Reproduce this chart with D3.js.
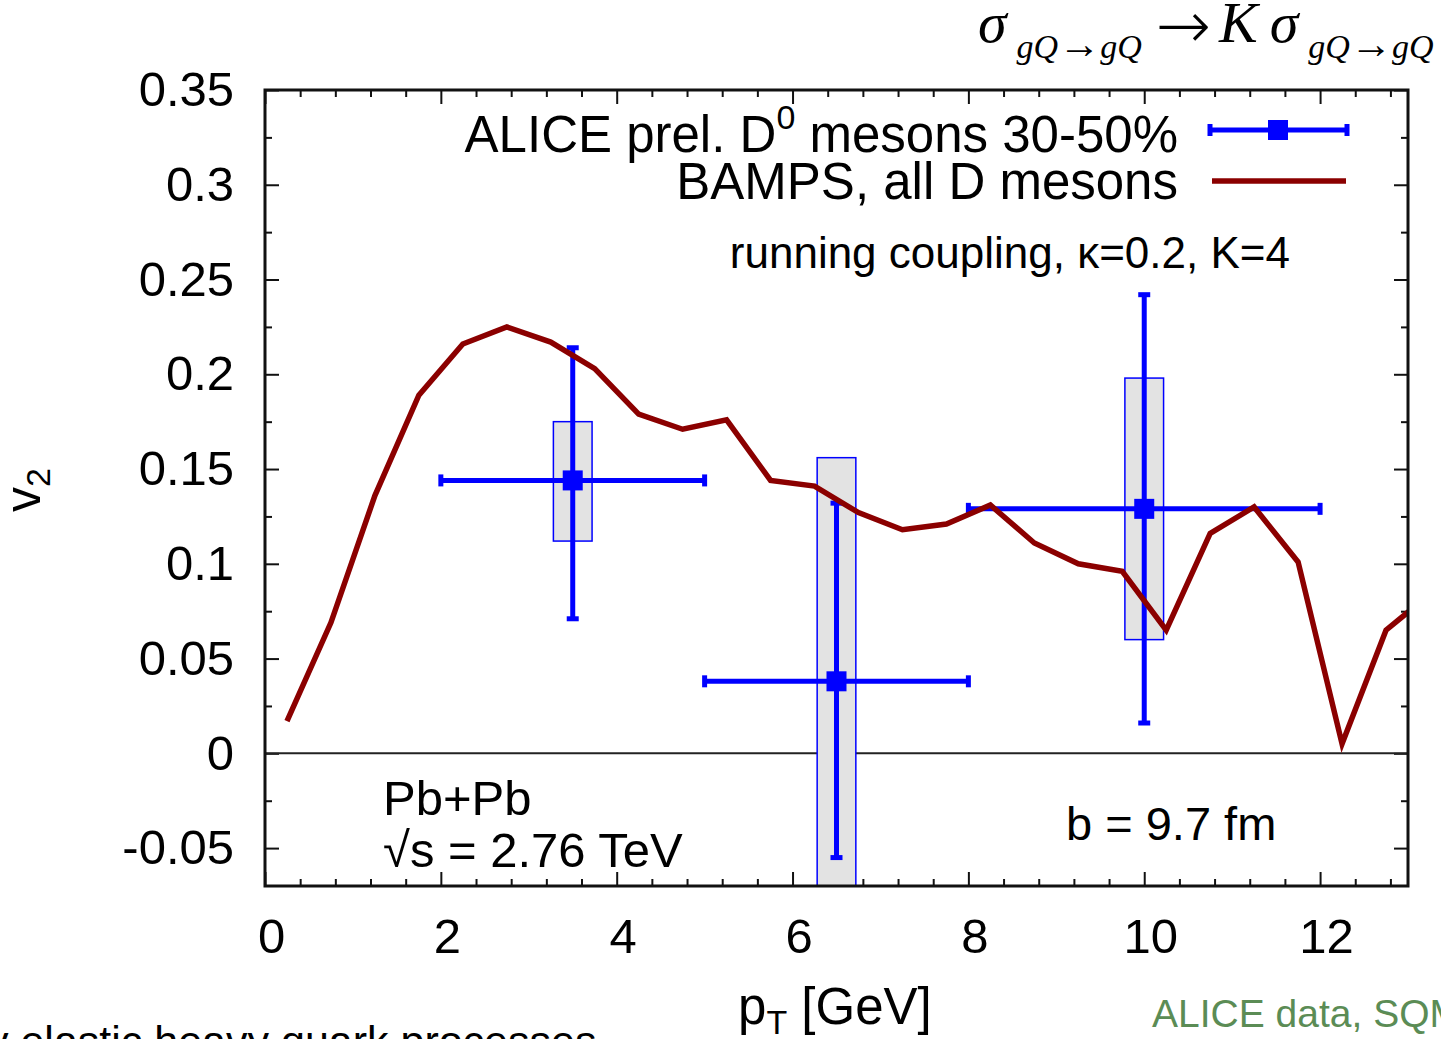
<html lang="en">
<head>
<meta charset="UTF-8">
<title>D meson v2</title>
<script src="https://cdn.jsdelivr.net/npm/d3@7"></script>
<style>
  body { margin: 0; background: #fff; overflow: hidden; }
  svg { display: block; }
  text { font-family: "Liberation Sans", Arial, Helvetica, sans-serif; fill: #000; }
  .serif { font-family: "Liberation Serif", "Times New Roman", serif; }
</style>
</head>
<body>
<svg id="chart"></svg>
<script>
// BAMPS curve (all D mesons)
var curvePt = [0.25, 0.75, 1.25, 1.75, 2.25, 2.75, 3.25, 3.75, 4.25, 4.75, 5.25, 5.75, 6.25,
               6.75, 7.25, 7.75, 8.25, 8.75, 9.25, 9.75, 10.25, 10.75, 11.25, 11.75, 12.25, 12.75, 13.25];
var curveV2 = [0.017, 0.069, 0.136, 0.189, 0.216, 0.225, 0.217, 0.203, 0.179, 0.171, 0.176, 0.144, 0.141,
               0.127, 0.118, 0.121, 0.131, 0.111, 0.100, 0.096, 0.065, 0.116, 0.130, 0.101, 0.005, 0.065, 0.084];

// ALICE prel. D0 30-50%
var alicePt  = [3.5, 6.5, 10];
var aliceV2  = [0.144, 0.038, 0.129];
var alicePtLo = [2, 5, 8];
var alicePtHi = [5, 8, 12];
var statLo = [0.071, -0.055, 0.016];
var statHi = [0.214, 0.132, 0.242];
var sysLo  = [0.112, -0.09, 0.060];
var sysHi  = [0.175, 0.156, 0.198];

var xTicks = [0, 2, 4, 6, 8, 10, 12];
var yTicks = [-0.05, 0, 0.05, 0.1, 0.15, 0.2, 0.25, 0.3, 0.35];

var width = 1441, height = 1039;
var mLeft = 265, mRight = 1408, mTop = 90, mBottom = 886;

var svg = d3.select("#chart").attr("width", width).attr("height", height);

var x = d3.scaleLinear().domain([0, 13]).range([mLeft, mRight]);
var y = d3.scaleLinear().domain([-0.07, 0.35]).range([mBottom, mTop]);

var xMinor = d3.range(0, 13.01, 0.4).filter(function(d) { return Math.abs(d / 2 - Math.round(d / 2)) > 0.01; });
var yMinor = d3.range(-0.05, 0.351, 0.025).filter(function(d) { return Math.abs(d / 0.05 - Math.round(d / 0.05)) > 0.01; });

svg.append("defs").append("clipPath").attr("id", "plot")
   .append("rect").attr("x", mLeft).attr("y", mTop).attr("width", mRight - mLeft).attr("height", mBottom - mTop);

function fmt(d) { return String(+d.toFixed(2)); }

// axes: major and minor ticks on all four sides, pointing inward
function ticks(axis, pos, vals, size, labels, pad) {
  var g = svg.append("g")
    .attr("transform", pos)
    .call(axis.tickValues(vals).tickSize(size).tickPadding(pad || 0)
      .tickFormat(labels ? fmt : ""));
  g.select(".domain").remove();
  g.selectAll("line").attr("stroke", "#111").attr("stroke-width", 2);
  g.selectAll("text").attr("font-size", 49).attr("font-family", "Liberation Sans, Arial, sans-serif");
  return g;
}
ticks(d3.axisBottom(x), "translate(0," + mBottom + ")", xTicks, -14, true, 32)
  .selectAll("text").attr("dx", 6);
ticks(d3.axisBottom(x), "translate(0," + mBottom + ")", xMinor, -7, false);
ticks(d3.axisTop(x), "translate(0," + mTop + ")", xTicks, -14, false);
ticks(d3.axisTop(x), "translate(0," + mTop + ")", xMinor, -7, false);
ticks(d3.axisLeft(y), "translate(" + mLeft + ",0)", yTicks, -14, true, 31);
ticks(d3.axisLeft(y), "translate(" + mLeft + ",0)", yMinor, -7, false);
ticks(d3.axisRight(y), "translate(" + mRight + ",0)", yTicks, -14, false);
ticks(d3.axisRight(y), "translate(" + mRight + ",0)", yMinor, -7, false);

// zero line
svg.append("line")
   .attr("x1", mLeft).attr("x2", mRight).attr("y1", y(0)).attr("y2", y(0))
   .attr("stroke", "#222").attr("stroke-width", 2);

var plot = svg.append("g").attr("clip-path", "url(#plot)");
var idx = d3.range(alicePt.length);

// systematic boxes
plot.selectAll("rect.sys").data(idx).enter().append("rect")
    .attr("class", "sys")
    .attr("x", function(i) { return x(alicePt[i] - 0.22); })
    .attr("width", function(i) { return x(alicePt[i] + 0.22) - x(alicePt[i] - 0.22); })
    .attr("y", function(i) { return y(sysHi[i]); })
    .attr("height", function(i) { return y(sysLo[i]) - y(sysHi[i]); })
    .attr("fill", "#e3e3e3").attr("stroke", "#0000ff").attr("stroke-width", 1.5);

// error bars
var blue = "#0000ff";
var eb = plot.selectAll("g.pt").data(idx).enter().append("g").attr("class", "pt");
eb.append("line")
  .attr("x1", function(i) { return x(alicePtLo[i]); })
  .attr("x2", function(i) { return x(alicePtHi[i]); })
  .attr("y1", function(i) { return y(aliceV2[i]); })
  .attr("y2", function(i) { return y(aliceV2[i]); })
  .attr("stroke", blue).attr("stroke-width", 5);
eb.append("line")
  .attr("x1", function(i) { return x(alicePt[i]); })
  .attr("x2", function(i) { return x(alicePt[i]); })
  .attr("y1", function(i) { return y(statLo[i]); })
  .attr("y2", function(i) { return y(statHi[i]); })
  .attr("stroke", blue).attr("stroke-width", 5);
// caps
[alicePtLo, alicePtHi].forEach(function(arr) {
  eb.append("line")
    .attr("x1", function(i) { return x(arr[i]); })
    .attr("x2", function(i) { return x(arr[i]); })
    .attr("y1", function(i) { return y(aliceV2[i]) - 6; })
    .attr("y2", function(i) { return y(aliceV2[i]) + 6; })
    .attr("stroke", blue).attr("stroke-width", 5);
});
[statLo, statHi].forEach(function(arr) {
  eb.append("line")
    .attr("x1", function(i) { return x(alicePt[i]) - 6; })
    .attr("x2", function(i) { return x(alicePt[i]) + 6; })
    .attr("y1", function(i) { return y(arr[i]); })
    .attr("y2", function(i) { return y(arr[i]); })
    .attr("stroke", blue).attr("stroke-width", 5);
});
eb.append("rect")
  .attr("x", function(i) { return x(alicePt[i]) - 10; })
  .attr("y", function(i) { return y(aliceV2[i]) - 10; })
  .attr("width", 20).attr("height", 20).attr("fill", blue);

// BAMPS line
var line = d3.line()
  .x(function(d, i) { return x(curvePt[i]); })
  .y(function(d) { return y(d); });
plot.append("path")
    .datum(curveV2)
    .attr("d", line)
    .attr("fill", "none").attr("stroke", "#8b0000").attr("stroke-width", 5.5)
    .attr("stroke-linejoin", "miter");

// frame
svg.append("rect")
   .attr("x", mLeft).attr("y", mTop).attr("width", mRight - mLeft).attr("height", mBottom - mTop)
   .attr("fill", "none").attr("stroke", "#111").attr("stroke-width", 3);

// legend
var l1 = svg.append("text").attr("x", 1178).attr("y", 152).attr("text-anchor", "end").attr("font-size", 51);
l1.append("tspan").text("ALICE prel. D");
l1.append("tspan").attr("font-size", 34).attr("dy", -23).text("0");
l1.append("tspan").attr("dy", 23).text(" mesons 30-50%");
svg.append("line").attr("x1", 1210).attr("x2", 1347).attr("y1", 130).attr("y2", 130)
   .attr("stroke", blue).attr("stroke-width", 5);
[1210, 1347].forEach(function(px) {
  svg.append("line").attr("x1", px).attr("x2", px).attr("y1", 124).attr("y2", 136)
     .attr("stroke", blue).attr("stroke-width", 5);
});
svg.append("rect").attr("x", 1268).attr("y", 120).attr("width", 20).attr("height", 20).attr("fill", blue);

svg.append("text").attr("x", 1178).attr("y", 199).attr("text-anchor", "end").attr("font-size", 51)
   .text("BAMPS, all D mesons");
svg.append("line").attr("x1", 1212).attr("x2", 1346).attr("y1", 181).attr("y2", 181)
   .attr("stroke", "#8b0000").attr("stroke-width", 5.5);

svg.append("text").attr("x", 1290).attr("y", 268).attr("text-anchor", "end").attr("font-size", 44)
   .text("running coupling, \u03ba=0.2, K=4");

// annotations
svg.append("text").attr("x", 383).attr("y", 815).attr("font-size", 49).text("Pb+Pb");
svg.append("text").attr("x", 383).attr("y", 867).attr("font-size", 49).text("\u221as = 2.76 TeV");
svg.append("text").attr("x", 1066).attr("y", 840).attr("font-size", 47).text("b = 9.7 fm");

// axis titles
var yl = svg.append("text").attr("transform", "translate(40,490) rotate(-90)")
   .attr("text-anchor", "middle").attr("font-size", 50);
yl.append("tspan").text("v");
yl.append("tspan").attr("font-size", 34).attr("dy", 10).text("2");

var xl = svg.append("text").attr("x", 738).attr("y", 1024).attr("font-size", 51);
xl.append("tspan").text("p");
xl.append("tspan").attr("font-size", 34).attr("dy", 10).text("T");
xl.append("tspan").attr("dy", -10).text(" [GeV]");

// formula on top
var f = svg.append("text").attr("class", "serif").attr("x", 978).attr("y", 42).attr("font-size", 58);
f.append("tspan").attr("font-style", "italic").text("\u03c3");
f.append("tspan").attr("dx", 10).attr("dy", 16).attr("font-size", 34).attr("font-style", "italic").text("gQ");
f.append("tspan").attr("font-size", 42).text("\u2192");
f.append("tspan").attr("font-size", 34).attr("font-style", "italic").text("gQ");
f.append("tspan").attr("dx", 14).attr("dy", -10).attr("font-size", 66).attr("font-family", "DejaVu Sans").attr("font-weight", "200").text("\u2192");
f.append("tspan").attr("dx", 8).attr("dy", -6).attr("font-style", "italic").text("K");
f.append("tspan").attr("dx", 12).attr("font-style", "italic").text("\u03c3");
f.append("tspan").attr("dx", 10).attr("dy", 16).attr("font-size", 34).attr("font-style", "italic").text("gQ");
f.append("tspan").attr("font-size", 42).text("\u2192");
f.append("tspan").attr("font-size", 34).attr("font-style", "italic").text("gQ");

// cut-off slide texts
svg.append("text").attr("x", -13).attr("y", 1056).attr("font-size", 43).text("y elastic heavy quark processes");
svg.append("text").attr("x", 1152).attr("y", 1027).attr("font-size", 39).style("fill", "#5b8c55")
   .text("ALICE data, SQM 2011");
</script>
</body>
</html>
